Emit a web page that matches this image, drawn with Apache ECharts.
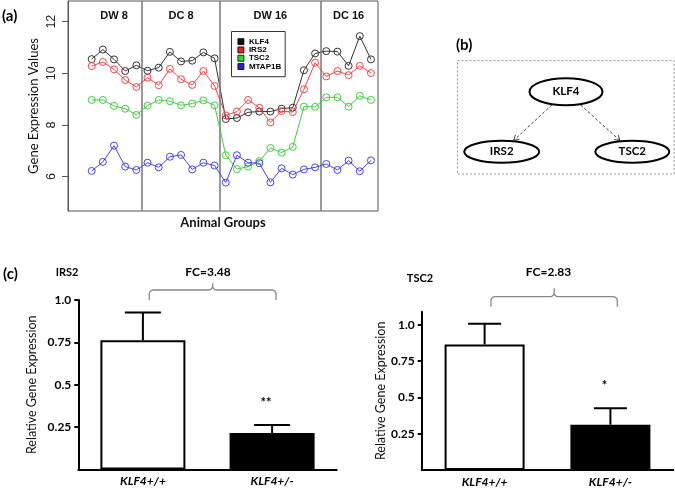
<!DOCTYPE html>
<html><head><meta charset="utf-8">
<script src="https://cdn.jsdelivr.net/npm/echarts@6/dist/echarts.min.js"></script>
<style>html,body{margin:0;padding:0;background:#fff}#c{width:675px;height:488px}</style>
</head><body><div id="c"></div>
<script>
// ---------- Panel (a) data ----------
const groupNames = ['DW 8', 'DC 8', 'DW 16', 'DC 16'];
const groupSizes = [5, 7, 9, 5];
const geneNames = ['KLF4', 'IRS2', 'TSC2', 'MTAP1B'];
const klf4   = [10.55,10.92,10.54,10.09,10.31, 10.10,10.22,10.83,10.46,10.49,10.81,10.58, 8.23,8.27,8.49,8.52,8.52,8.63,8.67,10.12,10.77, 10.86,10.84,10.29,11.44,10.54];
const irs2   = [10.28,10.44,10.15,9.74,9.47, 9.83,9.54,10.17,9.77,9.55,10.09,9.51, 8.37,8.52,8.97,8.67,8.10,8.54,8.50,9.38,10.41, 9.88,10.09,9.93,10.29,10.01];
const tsc2   = [8.97,8.97,8.74,8.63,8.39, 8.75,8.97,8.92,8.76,8.83,8.95,8.76, 6.83,6.29,6.39,6.60,7.11,6.93,7.15,8.71,8.70, 9.07,9.07,8.71,9.13,8.97];
const mtap1b = [6.22,6.57,7.20,6.39,6.26, 6.54,6.36,6.77,6.84,6.28,6.54,6.43, 5.77,6.83,6.54,6.52,5.78,6.32,6.08,6.28,6.36, 6.49,6.26,6.62,6.21,6.63];
const yTicksA = [6, 8, 10, 12];

// ---------- Panel (b) data ----------
const netNodes = ['KLF4', 'IRS2', 'TSC2'];
const netEdges = [['KLF4', 'IRS2'], ['KLF4', 'TSC2']];

// ---------- Panel (c) data ----------
const genotypes = ['KLF4+/+', 'KLF4+/-'];
const irs2Mean = [0.762, 0.216];
const irs2Upper = [0.927, 0.263];
const tsc2Mean = [0.864, 0.312];
const tsc2Upper = [1.007, 0.425];
const irs2Sig = ['', '**'];
const tsc2Sig = ['', '*'];
const irs2FC = 'FC=3.48';
const tsc2FC = 'FC=2.83';
const yTicksC = [0.25, 0.5, 0.75, 1.0];
const yTickLabelsC = ['0.25', '0.5', '0.75', '1.0'];

// ---------- derived ----------
const groupBounds = [], groupCenters = [];
let acc = 0;
groupSizes.forEach((n, k) => {
  groupCenters.push(acc + (n - 1) / 2);
  acc += n;
  if (k < groupSizes.length - 1) groupBounds.push(acc - 0.5);
});
const geneColors = ['#333333', '#f04848', '#44cc44', '#4545e0'];
const legendColors = ['#111111', '#ee2222', '#22dd22', '#2222dd'];
const geneData = [klf4, irs2, tsc2, mtap1b];

const ARIAL = '"Liberation Sans", Arial, sans-serif';
const CAL = 'Lato, "Open Sans", sans-serif';

const chart = echarts.init(document.getElementById('c'), null, {renderer: 'canvas'});

const lineSeries = geneData.map((arr, k) => ({
  name: geneNames[k], type: 'line', xAxisIndex: 0, yAxisIndex: 0,
  data: arr.map((v, i) => [i, v]),
  symbol: 'circle', symbolSize: 7,
  lineStyle: {width: 1, color: geneColors[k]},
  itemStyle: {color: 'rgba(255,255,255,0)', borderColor: geneColors[k], borderWidth: 1},
  z: 3 + k,
  markLine: k === 0 ? {
    silent: true, symbol: 'none', label: {show: false},
    lineStyle: {color: '#777', width: 1.5, type: 'solid'},
    data: groupBounds.map(b => ({xAxis: b}))
  } : undefined
}));

function errRender(capW, sigs) {
  return function (params, api) {
    const i = api.value(0);
    const p0 = api.coord([i, api.value(1)]);
    const p1 = api.coord([i, api.value(2)]);
    const ch = [
      {type: 'line', shape: {x1: p0[0], y1: p0[1], x2: p1[0], y2: p1[1]}, style: {stroke: '#000', lineWidth: 2}},
      {type: 'line', shape: {x1: p1[0] - capW / 2, y1: p1[1], x2: p1[0] + capW / 2, y2: p1[1]}, style: {stroke: '#000', lineWidth: 2}}
    ];
    if (sigs[params.dataIndex]) ch.push({type: 'text', style: {text: sigs[params.dataIndex], x: p1[0] - 6, y: p1[1] - 22, align: 'center', verticalAlign: 'middle', font: 'bold 13px ' + CAL, fill: '#000'}});
    return {type: 'group', children: ch};
  };
}

function barAxisY(grid, max, nameGap) {
  return {
    type: 'value', gridIndex: grid, min: 0, max: max,
    name: 'Relative Gene Expression', nameLocation: 'middle', nameGap: nameGap,
    nameTextStyle: {fontFamily: CAL, fontSize: 12.5, color: '#111'},
    axisLine: {show: true, lineStyle: {color: '#000', width: 2}},
    axisTick: {show: true, length: 4, lineStyle: {color: '#000', width: 2}, customValues: yTicksC},
    axisLabel: {customValues: yTicksC, formatter: v => yTickLabelsC[yTicksC.indexOf(v)], fontFamily: CAL, fontWeight: 'bold', fontSize: 12, color: '#000', margin: 7},
    splitLine: {show: false}
  };
}
function barAxisX(grid) {
  return {
    type: 'category', gridIndex: grid, data: genotypes,
    axisLine: {show: true, lineStyle: {color: '#000', width: 2}},
    axisTick: {show: false},
    axisLabel: {fontFamily: CAL, fontWeight: 'bold', fontStyle: 'italic', fontSize: 12, color: '#000', margin: 6}
  };
}

// curly brace as polyline points
function brace(xL, xR, yH, yPeak, yEnd) {
  const xc = (xL + xR) / 2, r = 4, pts = [];
  const arc = (cx, cy, a0, a1) => { for (let t = 0; t <= 6; t++) { const a = a0 + (a1 - a0) * t / 6; pts.push([cx + r * Math.cos(a), cy + r * Math.sin(a)]); } };
  pts.push([xL, yEnd]);
  arc(xL + r, yH + r, Math.PI, 1.5 * Math.PI);
  arc(xc - r, yH - r, 0.5 * Math.PI, 0);
  pts.push([xc, yPeak]);
  pts.push([xc, yH - r]);
  arc(xc + r, yH - r, Math.PI, 0.5 * Math.PI);
  arc(xR - r, yH + r, 1.5 * Math.PI, 2 * Math.PI);
  pts.push([xR, yEnd]);
  return pts;
}

// diagram layout (positions only)
const nodePos = {KLF4: [566, 91.7, 36.5, 13.5], IRS2: [501.7, 151.7, 37.5, 11], TSC2: [632.3, 151.7, 37, 11]};
function edgeEls(a, b) {
  const A = nodePos[a], B = nodePos[b];
  const dx = B[0] - A[0], dy = B[1] - A[1];
  const L = Math.hypot(dx, dy), ux = dx / L, uy = dy / L;
  const ta = 1 / Math.sqrt((ux / A[2]) ** 2 + (uy / A[3]) ** 2);
  const tb = 1 / Math.sqrt((ux / B[2]) ** 2 + (uy / B[3]) ** 2);
  const sx = A[0] + ux * (ta + 1), sy = A[1] + uy * (ta + 1);
  const ex = B[0] - ux * (tb + 1), ey = B[1] - uy * (tb + 1);
  const h = 6, ang = Math.PI / 6;
  const w1 = [ex - h * (ux * Math.cos(ang) - uy * Math.sin(ang)), ey - h * (uy * Math.cos(ang) + ux * Math.sin(ang))];
  const w2 = [ex - h * (ux * Math.cos(ang) + uy * Math.sin(ang)), ey - h * (uy * Math.cos(ang) - ux * Math.sin(ang))];
  return [
    {type: 'line', shape: {x1: sx, y1: sy, x2: ex, y2: ey}, style: {stroke: '#444', lineWidth: 1, lineDash: [3, 2]}},
    {type: 'polyline', shape: {points: [w1, [ex, ey], w2]}, style: {stroke: '#444', lineWidth: 1, fill: null}}
  ];
}

const graphics = [
  {type: 'text', style: {text: '(a)', x: 2, y: 16, verticalAlign: 'middle', font: 'bold 15px ' + CAL, fill: '#000'}},
  {type: 'text', style: {text: '(b)', x: 456, y: 45, verticalAlign: 'middle', font: 'bold 15px ' + CAL, fill: '#000'}},
  {type: 'rect', shape: {x: 457.5, y: 60.5, width: 216.5, height: 113.5}, style: {fill: null, stroke: '#999', lineWidth: 1, lineDash: [2, 2]}},
  {type: 'text', style: {text: '(c)', x: 3, y: 274.5, verticalAlign: 'middle', font: 'bold 15px ' + CAL, fill: '#000'}},
  {type: 'text', style: {text: 'IRS2', x: 67, y: 272, align: 'center', verticalAlign: 'middle', font: 'bold 11px ' + CAL, fill: '#000'}},
  {type: 'text', style: {text: irs2FC, x: 208, y: 272, align: 'center', verticalAlign: 'middle', font: 'bold 12px ' + CAL, fill: '#000'}},
  {type: 'text', style: {text: 'TSC2', x: 420, y: 278.5, align: 'center', verticalAlign: 'middle', font: 'bold 11px ' + CAL, fill: '#000'}},
  {type: 'text', style: {text: tsc2FC, x: 548.5, y: 272, align: 'center', verticalAlign: 'middle', font: 'bold 12px ' + CAL, fill: '#000'}},
  {type: 'polyline', shape: {points: brace(149.3, 276, 290, 283.3, 300)}, style: {fill: null, stroke: '#888', lineWidth: 1.3}},
  {type: 'polyline', shape: {points: brace(491, 617.3, 296.7, 288.3, 306.7)}, style: {fill: null, stroke: '#888', lineWidth: 1.3}}
];
netEdges.forEach(e => edgeEls(e[0], e[1]).forEach(el => graphics.push(el)));
netNodes.forEach(n => {
  const p = nodePos[n];
  graphics.push({type: 'ellipse', shape: {cx: p[0], cy: p[1], rx: p[2], ry: p[3]}, style: {fill: '#fff', stroke: '#000', lineWidth: 2}});
  graphics.push({type: 'text', style: {text: n, x: p[0], y: p[1], align: 'center', verticalAlign: 'middle', font: 'bold 11.5px ' + CAL, fill: '#000'}});
});

const option = {
  backgroundColor: '#fff',
  animation: false,
  graphic: graphics,
  legend: {
    data: geneNames.map((n, k) => ({name: n, itemStyle: {color: legendColors[k], borderColor: '#000', borderWidth: 0.8}})),
    orient: 'vertical', left: 231.5, top: 31.5,
    icon: 'rect', itemWidth: 6, itemHeight: 6, itemGap: 0,
    textStyle: {fontFamily: ARIAL, fontWeight: 'bold', fontSize: 8, lineHeight: 8.3, color: '#000'},
    borderColor: '#333', borderWidth: 1, padding: [6, 4, 6, 6], borderRadius: 0,
    selectedMode: false
  },
  grid: [
    {left: 68, top: 1, width: 310, height: 210, show: true, borderColor: '#555', borderWidth: 1, backgroundColor: 'transparent'},
    {left: 78.3, top: 300, width: 258.4, height: 169.6},
    {left: 421.7, top: 311.7, width: 251.6, height: 160}
  ],
  xAxis: [
    {type: 'value', gridIndex: 0, min: -2.12, max: 25.63,
     name: 'Animal Groups', nameLocation: 'middle', nameGap: 5,
     nameTextStyle: {fontFamily: CAL, fontWeight: 'bold', fontSize: 13, color: '#111', verticalAlign: 'top'},
     axisLine: {show: false, onZero: false}, axisTick: {show: false}, axisLabel: {show: false}, splitLine: {show: false}},
    {type: 'value', gridIndex: 0, position: 'top', min: -2.12, max: 25.63,
     axisLine: {show: false, onZero: false}, axisTick: {show: false}, splitLine: {show: false},
     axisLabel: {inside: true, margin: 9, customValues: groupCenters,
       formatter: v => groupNames[groupCenters.indexOf(v)],
       fontFamily: ARIAL, fontWeight: 'bold', fontSize: 11, color: '#111'}},
    barAxisX(1), barAxisX(2)
  ],
  yAxis: [
    {type: 'value', gridIndex: 0, min: 4.67, max: 12.8,
     name: 'Gene Expression Values', nameLocation: 'middle', nameGap: 28,
     nameTextStyle: {fontFamily: CAL, fontSize: 13, color: '#111'},
     axisLine: {show: true, onZero: false, lineStyle: {color: '#555', width: 1}},
     axisTick: {show: true, length: 6, customValues: yTicksA, lineStyle: {color: '#555'}},
     axisLabel: {customValues: yTicksA, rotate: 90, margin: 10, fontFamily: ARIAL, fontSize: 12.5, color: '#222'},
     splitLine: {show: false}},
    barAxisY(1, 1.0, 40), barAxisY(2, 1.09, 34)
  ],
  series: [
    ...lineSeries,
    {type: 'bar', xAxisIndex: 2, yAxisIndex: 1, barWidth: 85, silent: true,
     data: irs2Mean.map((v, i) => ({value: v, itemStyle: {color: i === 0 ? '#fff' : '#000'}})),
     itemStyle: {borderColor: '#000', borderWidth: 2}},
    {type: 'custom', xAxisIndex: 2, yAxisIndex: 1, z: 5, silent: true,
     renderItem: errRender(36, irs2Sig),
     data: irs2Mean.map((v, i) => [i, v, irs2Upper[i]])},
    {type: 'bar', xAxisIndex: 3, yAxisIndex: 2, barWidth: 80, silent: true,
     data: tsc2Mean.map((v, i) => ({value: v, itemStyle: {color: i === 0 ? '#fff' : '#000'}})),
     itemStyle: {borderColor: '#000', borderWidth: 2}},
    {type: 'custom', xAxisIndex: 3, yAxisIndex: 2, z: 5, silent: true,
     renderItem: errRender(33, tsc2Sig),
     data: tsc2Mean.map((v, i) => [i, v, tsc2Upper[i]])}
  ]
};
chart.setOption(option);
</script></body></html>
